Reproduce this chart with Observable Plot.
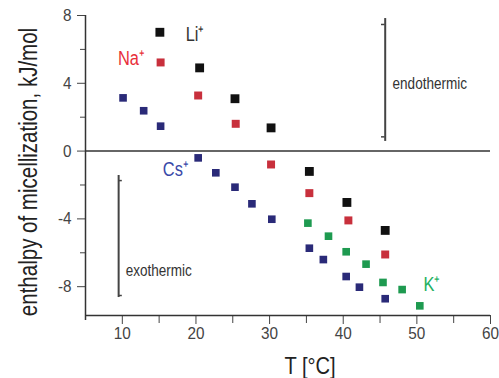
<!DOCTYPE html>
<html><head><meta charset="utf-8">
<script src="https://cdn.jsdelivr.net/npm/d3@7"></script>
<script src="https://cdn.jsdelivr.net/npm/@observablehq/plot@0.6"></script>
<style>body{margin:0;background:#fff} svg{display:block}</style>
</head><body><div id="chart"></div>
<script>
// Temperatures (°C) and enthalpies (kJ/mol) per counter-ion
const T_Li = [15.1, 20.5, 25.3, 30.2, 35.4, 40.5, 45.7];
const H_Li = [7.01, 4.91, 3.09, 1.37, -1.20, -3.03, -4.68];
const T_Na = [15.2, 20.3, 25.4, 30.2, 35.4, 40.7, 45.7];
const H_Na = [5.23, 3.28, 1.61, -0.79, -2.48, -4.09, -6.10];
const T_Cs = [10.1, 12.9, 15.2, 20.3, 22.7, 25.3, 27.6, 30.3, 35.4, 37.3, 40.4, 42.2, 45.7];
const H_Cs = [3.14, 2.38, 1.47, -0.40, -1.28, -2.13, -3.11, -4.02, -5.73, -6.40, -7.40, -8.03, -8.71];
const T_K  = [35.2, 38.0, 40.4, 43.1, 45.4, 48.0, 50.4];
const H_K  = [-4.25, -5.02, -5.94, -6.67, -7.75, -8.17, -9.13];

const xTicksMajor = [10, 20, 30, 40, 50, 60];
const xTicksMinor = [15, 25, 35, 45, 55];
const yTicksMajor = [8, 4, 0, -4, -8];
const yTicksMinor = [6, 2, -2, -6];

// ion labels
const ionNames = ["Li⁺", "Na⁺", "Cs⁺", "K⁺"];
const ionLabelT = [18.6, 9.4, 15.5, 50.9];
const ionLabelH = [6.88, 5.46, -1.09, -7.87];
const ionLabelColors = ["#333333", "#e8303a", "#3848a8", "#22b060"];

// brackets: endothermic / exothermic
const bracketNames = ["endothermic", "exothermic"];
const bracketT = [45.7, 9.5];
const bracketTop = [7.82, -1.44];
const bracketBottom = [0.57, -8.64];
const bracketTickTop = [7.47, -1.74];
const bracketTickBottom = [0.84, -8.52];
const bracketTickDir = [-0.5, 0.5];
const bracketTextT = [46.7, 10.45];
const bracketTextH = [4.0, -7.04];

const pts = (T, H) => T.map((t, i) => ({t, h: H[i]}));
const font = '"Liberation Sans", Arial, sans-serif';

const brackets = bracketNames.map((n, i) => ({
  n, t: bracketT[i], top: bracketTop[i], bottom: bracketBottom[i],
  tt: bracketTickTop[i], tb: bracketTickBottom[i], d: bracketTickDir[i],
  tx: bracketTextT[i], ty: bracketTextH[i]
}));
const ions = ionNames.map((n, i) => ({n, t: ionLabelT[i], h: ionLabelH[i], c: ionLabelColors[i]}));

const plot = Plot.plot({
  width: 499, height: 378,
  marginTop: 15, marginBottom: 63, marginLeft: 85, marginRight: 9,
  style: {fontFamily: font, background: "#fff", overflow: "visible"},
  x: {domain: [5, 60]},
  y: {domain: [-9.7, 8]},
  marks: [
    Plot.axisX(xTicksMajor, {tickSize: 9, tickPadding: 2, fontSize: 17, stroke: "#444", fill: "#444", label: null, tickFormat: d => String(d)}),
    Plot.axisX(xTicksMinor, {tickSize: 8, stroke: "#444", label: null, tickFormat: () => ""}),
    Plot.axisY(yTicksMajor, {tickSize: 8, tickPadding: 6, fontSize: 17, stroke: "#444", fill: "#444", label: null, tickFormat: d => String(d)}),
    Plot.axisY(yTicksMinor, {tickSize: 5, stroke: "#444", label: null, tickFormat: () => ""}),
    Plot.ruleX([5], {y1: 8, y2: -10, stroke: "#333", strokeWidth: 1.5}),
    Plot.ruleY([-9.7], {x1: 5, x2: 60, stroke: "#333", strokeWidth: 1.5}),
    Plot.ruleY([0], {x1: 5, x2: 60, stroke: "#333", strokeWidth: 1.5}),
    // brackets
    Plot.ruleX(brackets, {x: "t", y1: "top", y2: "bottom", stroke: "#444", strokeWidth: 2}),
    Plot.ruleY(brackets, {y: "tt", x1: "t", x2: d => d.t + d.d, stroke: "#444", strokeWidth: 1.5}),
    Plot.ruleY(brackets, {y: "tb", x1: "t", x2: d => d.t + d.d, stroke: "#444", strokeWidth: 1.5}),
    Plot.text(brackets, {x: "tx", y: "ty", text: "n", textAnchor: "start", fontSize: 16.5, fill: "#333"}),
    // data
    Plot.dot(pts(T_Cs, H_Cs), {x: "t", y: "h", symbol: "square", r: 4.3, fill: "#2a2a78"}),
    Plot.dot(pts(T_K, H_K), {x: "t", y: "h", symbol: "square", r: 4.3, fill: "#1e9a50"}),
    Plot.dot(pts(T_Na, H_Na), {x: "t", y: "h", symbol: "square", r: 4.5, fill: "#c8303c"}),
    Plot.dot(pts(T_Li, H_Li), {x: "t", y: "h", symbol: "square", r: 5, fill: "#111"}),
    // ion labels
    Plot.text(ions, {x: "t", y: "h", text: "n", fill: "c", textAnchor: "start", fontSize: 20}),
    // axis titles
    Plot.text(["T [°C]"], {frameAnchor: "bottom", textAnchor: "middle", dx: 22, dy: 58, lineAnchor: "bottom", fontSize: 24.5, fill: "#222"}),
    Plot.text(["enthalpy of micellization, kJ/mol"], {frameAnchor: "left", textAnchor: "middle", rotate: -90, dx: -49, dy: 6.5, lineAnchor: "bottom", fontSize: 25, fill: "#222"})
  ]
});
document.getElementById("chart").appendChild(plot);

// condense the glyphs horizontally to mimic a narrow typeface
d3.select(plot).selectAll("text").each(function () {
  const len = this.getComputedTextLength();
  if (!len) return;
  const lbl = (this.parentNode.getAttribute("aria-label") || "");
  const k = lbl.includes("tick label") ? 0.9 : 0.82;
  this.setAttribute("textLength", (len * k).toFixed(2));
  this.setAttribute("lengthAdjust", "spacingAndGlyphs");
});
</script>
</body></html>
